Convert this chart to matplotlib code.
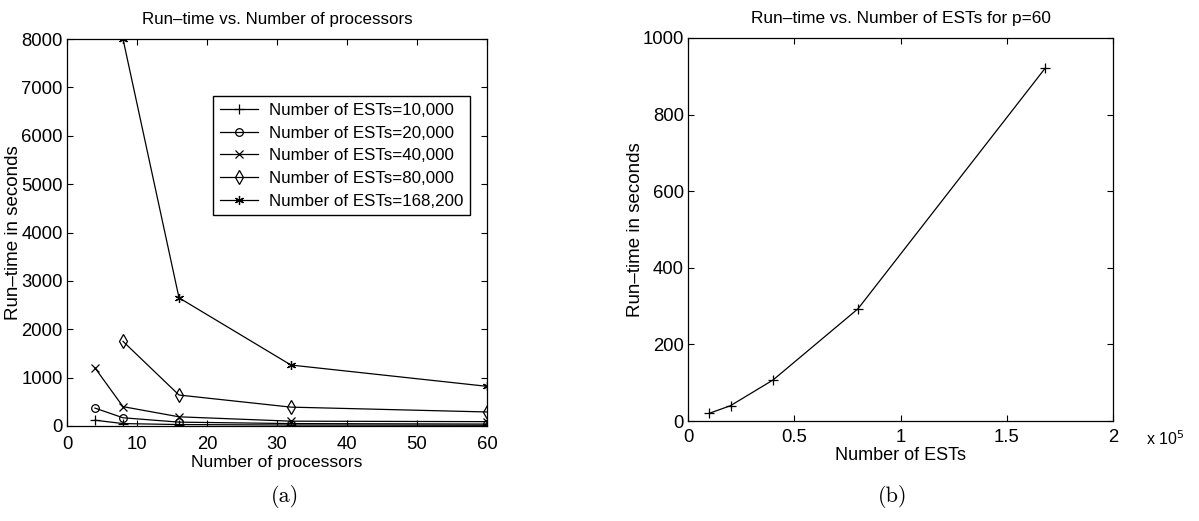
import matplotlib.pyplot as plt

plt.rcParams['font.family'] = ['Liberation Sans', 'DejaVu Sans']
plt.rcParams['xtick.direction'] = 'in'
plt.rcParams['ytick.direction'] = 'in'
plt.rcParams['xtick.top'] = True
plt.rcParams['ytick.right'] = True

# (a) run-time vs number of processors
procs = [4, 8, 16, 32, 60]
rt_10000 = [120, 50, 30, 20, 15]
rt_20000 = [370, 170, 80, 50, 40]
rt_40000 = [1200, 400, 190, 100, 90]
procs_80000 = [8, 16, 32, 60]
rt_80000 = [1750, 640, 390, 290]
procs_168200 = [8, 16, 32, 60]
rt_168200 = [8000, 2650, 1260, 820]
labels = ['Number of ESTs=10,000', 'Number of ESTs=20,000', 'Number of ESTs=40,000',
          'Number of ESTs=80,000', 'Number of ESTs=168,200']

# (b) run-time vs number of ESTs, p=60
ests = [10000, 20000, 40000, 80000, 168200]
rt_p60 = [20, 40, 107, 293, 922]

fig = plt.figure(figsize=(11.99, 5.21), dpi=100)
W, H = 1199, 521
ax1 = fig.add_axes([67 / W, 1 - 426 / H, 420 / W, 387 / H])
ax2 = fig.add_axes([688 / W, 1 - 421 / H, 425 / W, 383 / H])

kw = dict(color='black', lw=0.9, mew=0.9)
ax1.plot(procs, rt_10000, marker='+', ms=7, label=labels[0], **kw)
ax1.plot(procs, rt_20000, marker='o', mfc='none', ms=5.5, label=labels[1], **kw)
ax1.plot(procs, rt_40000, marker='x', ms=5.5, label=labels[2], **kw)
ax1.plot(procs_80000, rt_80000, marker='d', mfc='none', ms=7, label=labels[3], **kw)
ax1.plot(procs_168200, rt_168200, marker=(6, 2, 0), ms=6.5, label=labels[4], **kw)
ax1.set_xlim(0, 60)
ax1.set_ylim(0, 8000)
ax1.set_xticks(range(0, 61, 10))
ax1.set_yticks(range(0, 8001, 1000))
ax1.set_title('Run\u2013time vs. Number of processors', fontsize=12.2, pad=11)
ax1.set_xlabel('Number of processors', fontsize=12.5, va='center')
ax1.set_ylabel('Run\u2013time in seconds', fontsize=13.5, va='center')
ax1.xaxis.set_label_coords(0.5, (426 - 462) / 387)
ax1.yaxis.set_label_coords((14 - 67) / 420, 0.5)
ax1.legend(loc='upper left', bbox_to_anchor=(0.347, 0.852), fontsize=12.2, frameon=True,
           fancybox=False, edgecolor='black', framealpha=1, handlelength=2.3,
           handletextpad=0.6, borderpad=0.4, labelspacing=0.45, borderaxespad=0)

ax2.plot([e / 1e5 for e in ests], rt_p60, marker='+', ms=7, **kw)
ax2.set_xlim(0, 2)
ax2.set_ylim(0, 1000)
ax2.set_xticks([0, 0.5, 1, 1.5, 2])
ax2.set_xticklabels(['0', '0.5', '1', '1.5', '2'])
ax2.set_yticks(range(0, 1001, 200))
ax2.set_title('Run\u2013time vs. Number of ESTs for p=60', fontsize=12.4, pad=11)
ax2.set_xlabel('Number of ESTs', fontsize=13, va='center')
ax2.set_ylabel('Run\u2013time in seconds', fontsize=13.5, va='center')
ax2.xaxis.set_label_coords(0.5, (421 - 456) / 383)
ax2.yaxis.set_label_coords((636 - 688) / 425, 0.5)
fig.text(1146 / W, 1 - 439 / H, r'x 10$^5$', fontsize=11.5, ha='left', va='center')

for ax in (ax1, ax2):
    ax.tick_params(labelsize=13.3, length=4, width=0.8, pad=3)
    for s in ax.spines.values():
        s.set_linewidth(0.9)
ax1.tick_params(axis='x', pad=7.5)
ax2.tick_params(axis='x', pad=6)

fig.text(285 / W, 1 - 497 / H, '(a)', fontsize=16, family='cmr10', ha='center', va='center')
fig.text(893 / W, 1 - 497 / H, '(b)', fontsize=16, family='cmr10', ha='center', va='center')

fig.savefig('out.png', dpi=100)
